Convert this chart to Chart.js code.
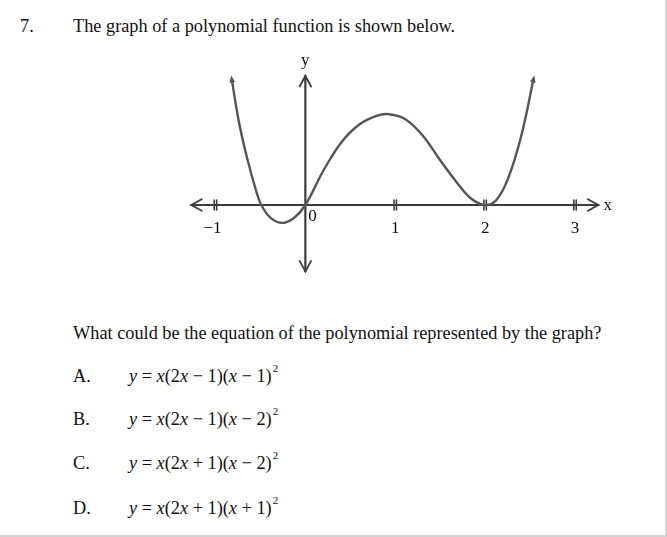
<!DOCTYPE html>
<html>
<head>
<meta charset="utf-8">
<script src="https://cdn.jsdelivr.net/npm/chart.js@4.4.1/dist/chart.umd.min.js"></script>
<style>
  html, body { margin: 0; padding: 0; background: #fff; }
  body { width: 667px; height: 537px; position: relative; overflow: hidden;
         font-family: "Liberation Serif", "DejaVu Serif", serif; color: #111; }
  .t { position: absolute; font-size: 18.3px; line-height: 1; white-space: nowrap; }
  .eq sup { font-size: 11px; vertical-align: 10px; line-height: 0; margin-left: 1px; }
  #plot { position: absolute; left: 160px; top: 40px; width: 480px; height: 260px; }
  .edge-r { position: absolute; right: 0; top: 0; width: 2px; height: 537px; background: #d4d4d4; }
  .edge-b { position: absolute; left: 0; bottom: 0; width: 667px; height: 2px; background: #d4d4d4; }
</style>
</head>
<body>
<div class="t" style="left:20px; top:17px;">7.</div>
<div class="t" style="left:73px; top:17px;">The graph of a polynomial function is shown below.</div>

<div id="plot"><canvas id="myChart"></canvas></div>

<div class="t" style="left:73px; top:324px;">What could be the equation of the polynomial represented by the graph?</div>
<div class="t" style="left:73px; top:367px;">A.</div>
<div class="t eq" style="left:129px; top:367px;"><i>y</i> = <i>x</i>(2<i>x</i> − 1)(<i>x</i> − 1)<sup>2</sup></div>
<div class="t" style="left:73px; top:410px;">B.</div>
<div class="t eq" style="left:129px; top:410px;"><i>y</i> = <i>x</i>(2<i>x</i> − 1)(<i>x</i> − 2)<sup>2</sup></div>
<div class="t" style="left:73px; top:454px;">C.</div>
<div class="t eq" style="left:129px; top:454px;"><i>y</i> = <i>x</i>(2<i>x</i> + 1)(<i>x</i> − 2)<sup>2</sup></div>
<div class="t" style="left:73px; top:499px;">D.</div>
<div class="t eq" style="left:129px; top:499px;"><i>y</i> = <i>x</i>(2<i>x</i> + 1)(<i>x</i> + 1)<sup>2</sup></div>

<div class="edge-r"></div>
<div class="edge-b"></div>

<script>
// points
const curveX = [-0.82, -0.74, -0.65, -0.55, -0.49, -0.38, -0.25, -0.12, 0, 0.2, 0.4, 0.6, 0.8, 0.92, 1.1, 1.3, 1.5, 1.7, 1.85, 2, 2.12, 2.25, 2.4, 2.54];
const curveY = [4.25, 2.8, 1.6, 0.5, 0, -0.45, -0.6, -0.42, 0, 1.15, 2.1, 2.7, 3.0, 3.05, 2.9, 2.35, 1.5, 0.7, 0.2, 0, 0.15, 0.85, 2.3, 4.25];

const xTicks = [-1, 1, 2, 3];
const xTickLabels = ["\u22121", "1", "2", "3"];
const originLabel = "0";
const xAxisEnds = [-1.27, 3.26];
const yAxisEnds = [-2.23, 4.33];

const ink = "#3c3c3c";
const serif = '"Liberation Serif", serif';

function chevron(ctx, x, y, angle, len) {
  // open arrow head pointing along angle
  ctx.beginPath();
  ctx.moveTo(x - len * Math.cos(angle - 0.5), y - len * Math.sin(angle - 0.5));
  ctx.lineTo(x, y);
  ctx.lineTo(x - len * Math.cos(angle + 0.5), y - len * Math.sin(angle + 0.5));
  ctx.stroke();
}

const axesPlugin = {
  id: "axes",
  beforeDatasetsDraw(chart) {
    const ctx = chart.ctx;
    const xs = chart.scales.x, ys = chart.scales.y;
    const y0 = ys.getPixelForValue(0), x0 = xs.getPixelForValue(0);
    const xl = xs.getPixelForValue(xAxisEnds[0]), xr = xs.getPixelForValue(xAxisEnds[1]);
    const yt = ys.getPixelForValue(yAxisEnds[1]), yb = ys.getPixelForValue(yAxisEnds[0]);
    ctx.save();
    ctx.strokeStyle = ink;
    ctx.lineWidth = 2.2;
    ctx.lineCap = "round";
    ctx.beginPath();
    ctx.moveTo(xl, y0); ctx.lineTo(xr, y0);
    ctx.moveTo(x0, yt); ctx.lineTo(x0, yb);
    ctx.stroke();
    ctx.lineWidth = 1.8;
    chevron(ctx, xl, y0, Math.PI, 12);
    chevron(ctx, xr, y0, 0, 12);
    chevron(ctx, x0, yt, -Math.PI / 2, 12);
    chevron(ctx, x0, yb, Math.PI / 2, 12);
    // tick marks
    ctx.lineWidth = 1.6;
    xTicks.forEach((t) => {
      const px = xs.getPixelForValue(t);
      ctx.beginPath();
      ctx.moveTo(px - 1.2, y0 - 5); ctx.lineTo(px - 1.2, y0 + 5);
      ctx.moveTo(px + 1.2, y0 - 5); ctx.lineTo(px + 1.2, y0 + 5);
      ctx.stroke();
    });
    ctx.restore();
  },
  afterDatasetsDraw(chart) {
    const ctx = chart.ctx;
    const xs = chart.scales.x, ys = chart.scales.y;
    const y0 = ys.getPixelForValue(0), x0 = xs.getPixelForValue(0);
    ctx.save();
    ctx.fillStyle = "#111";
    ctx.font = "17px " + serif;
    ctx.textAlign = "center";
    ctx.textBaseline = "middle";
    xTicks.forEach((t, i) => {
      ctx.fillText(xTickLabels[i], xs.getPixelForValue(t) - (t < 0 ? 3 : 0), y0 + 24);
    });
    ctx.textAlign = "left";
    ctx.fillText(originLabel, x0 + 3, y0 + 12);
    ctx.fillText("x", xs.getPixelForValue(xAxisEnds[1]) + 5, y0 + 1);
    ctx.textAlign = "center";
    ctx.fillText("y", x0, ys.getPixelForValue(yAxisEnds[1]) - 15);

    // filled arrow tips at the ends of the curve
    const pts = chart.getDatasetMeta(0).data;
    const ends = [[pts[1], pts[0]], [pts[pts.length - 2], pts[pts.length - 1]]];
    ctx.fillStyle = "#555";
    ends.forEach(([a, b]) => {
      const ang = Math.atan2(b.y - a.y, b.x - a.x);
      ctx.beginPath();
      ctx.moveTo(b.x + 3 * Math.cos(ang), b.y + 3 * Math.sin(ang));
      ctx.lineTo(b.x - 5 * Math.cos(ang - 0.6), b.y - 5 * Math.sin(ang - 0.6));
      ctx.lineTo(b.x - 5 * Math.cos(ang + 0.6), b.y - 5 * Math.sin(ang + 0.6));
      ctx.closePath();
      ctx.fill();
    });
    ctx.restore();
  },
};

function initChart() {
  const data = {
    datasets: [
      {
        data: curveX.map((x, i) => ({ x: x, y: curveY[i] })),
        showLine: true,
        borderColor: "#555",
        borderWidth: 2.4,
        pointRadius: 0,
        tension: 0.4,
      },
    ],
  };
  const config = {
    type: "scatter",
    data,
    options: {
      responsive: true,
      maintainAspectRatio: false,
      animation: false,
      events: [],
      layout: { padding: { left: 19.5, right: 29, top: 16, bottom: 20.5 } },
      plugins: { legend: { display: false }, tooltip: { enabled: false } },
      scales: {
        x: { type: "linear", min: -1.4, max: 3.4, display: false },
        y: { type: "linear", min: -2.5, max: 5.0, display: false },
      },
    },
    plugins: [axesPlugin],
  };
  new Chart(document.getElementById("myChart"), config);
}

initChart();
</script>
</body>
</html>
